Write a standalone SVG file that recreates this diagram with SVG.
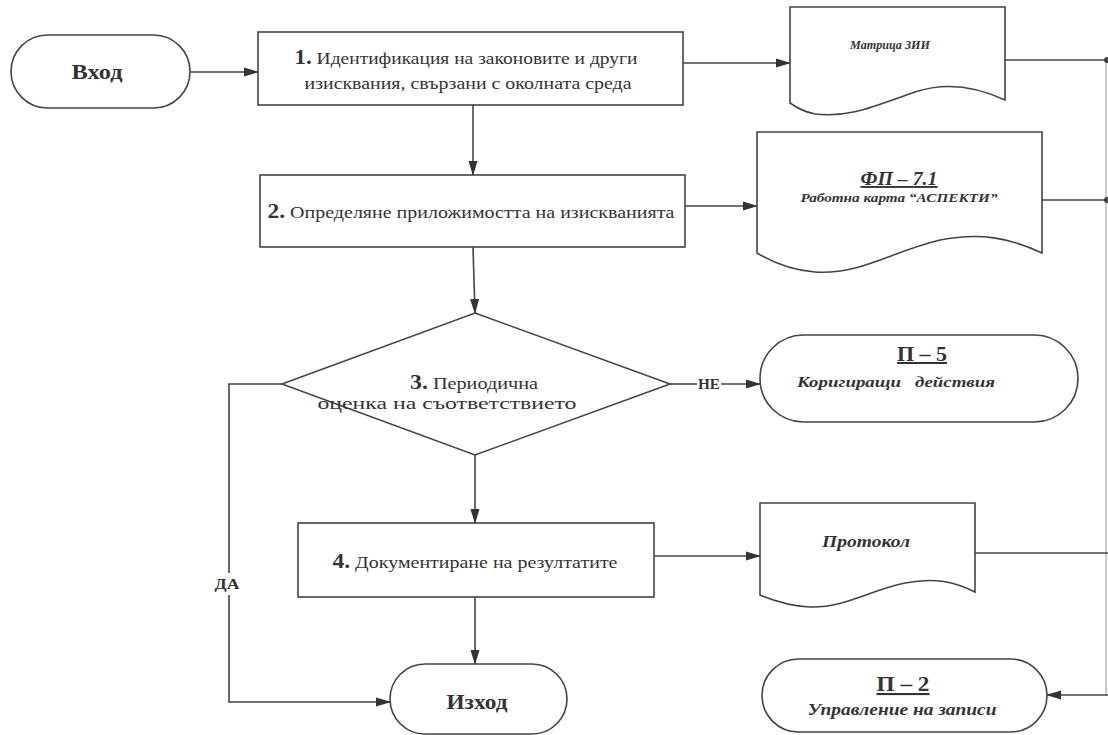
<svg xmlns="http://www.w3.org/2000/svg" width="1108" height="735" viewBox="0 0 1108 735">
<defs>
<marker id="arr" markerWidth="15" markerHeight="10" refX="14" refY="5" orient="auto" markerUnits="userSpaceOnUse">
<path d="M0,0.5 L15,5 L0,9.5 Z" fill="#333"/>
</marker>
<style>
.s{fill:#fff;stroke:#444;stroke-width:1.6}
.c{fill:none;stroke:#444;stroke-width:1.6}
text{fill:#333}
.t{font-size:17px;text-anchor:middle}
.n{font-size:20px;font-weight:bold}
.b{font-weight:bold;text-anchor:middle}
.bi{font-weight:bold;font-style:italic;text-anchor:middle}
.u{text-decoration:underline}
</style>
</defs>
<rect width="1108" height="735" fill="#fff"/>
<g font-family="'Liberation Serif', 'DejaVu Serif', 'Times New Roman', serif">
<g id="connectors">
<line class="c" x1="190" y1="72" x2="258" y2="72" marker-end="url(#arr)"/>
<line class="c" x1="683" y1="63" x2="790" y2="63" marker-end="url(#arr)"/>
<line class="c" x1="473" y1="105" x2="473" y2="175" marker-end="url(#arr)"/>
<line class="c" x1="685" y1="206" x2="757" y2="206" marker-end="url(#arr)"/>
<line class="c" x1="473" y1="247" x2="475" y2="313" marker-end="url(#arr)"/>
<polyline class="c" points="670,384 697,384"/>
<line class="c" x1="721" y1="384" x2="760" y2="384" marker-end="url(#arr)"/>
<line class="c" x1="475" y1="455" x2="475" y2="523" marker-end="url(#arr)"/>
<polyline class="c" points="282,384 229,384 229,573"/>
<polyline class="c" points="229,595 229,702 390,702" marker-end="url(#arr)"/>
<line class="c" x1="475" y1="597" x2="475" y2="664" marker-end="url(#arr)"/>
<line class="c" x1="654" y1="556" x2="760" y2="556" marker-end="url(#arr)"/>
<line class="c" x1="1005" y1="60" x2="1108" y2="60"/>
<line class="c" x1="1042" y1="200" x2="1108" y2="200"/>
<line class="c" x1="975" y1="553" x2="1108" y2="553"/>
<line class="c" x1="1106" y1="60" x2="1106" y2="695" stroke-opacity="0.35"/>
<line class="c" x1="1108" y1="695" x2="1047" y2="695" marker-end="url(#arr)"/>
<circle cx="1107" cy="60" r="3" fill="#444"/>
<circle cx="1107" cy="200" r="3" fill="#444"/>
<text x="709" y="389" class="b" font-size="14" textLength="22" lengthAdjust="spacingAndGlyphs">НЕ</text>
<text x="227" y="589" class="b" font-size="15" textLength="25" lengthAdjust="spacingAndGlyphs">ДА</text>
</g>
<g id="start">
<rect class="s" x="11" y="35" width="179" height="73" rx="36.5"/>
<text x="97" y="79" class="b" font-size="21" textLength="51" lengthAdjust="spacingAndGlyphs">Вход</text>
</g>
<g id="step1">
<rect class="s" x="258" y="32" width="425" height="73"/>
<text x="466" y="64" class="t" textLength="343" lengthAdjust="spacingAndGlyphs"><tspan class="n">1.</tspan> Идентификация на законовите и други</text>
<text x="468" y="89" class="t" textLength="327" lengthAdjust="spacingAndGlyphs">изисквания, свързани с околната среда</text>
</g>
<g id="doc-matrix">
<path class="s" d="M790,7 H1005 V100 C975,86 945,82 915,92 C875,106 850,118 815,114 C805,112 797,108 790,103 Z"/>
<text x="890" y="49" class="bi" font-size="12" textLength="80" lengthAdjust="spacingAndGlyphs">Матрица ЗИИ</text>
</g>
<g id="step2">
<rect class="s" x="260" y="175" width="425" height="72"/>
<text x="471" y="218" class="t" textLength="407" lengthAdjust="spacingAndGlyphs"><tspan class="n">2.</tspan> Определяне приложимостта на изискванията</text>
</g>
<g id="doc-fp">
<path class="s" d="M757,132 H1042 V253 C1010,238 980,232 940,240 C890,252 860,275 815,272 C790,270 772,262 757,253 Z"/>
<text x="899" y="185" class="bi u" font-size="19" textLength="77" lengthAdjust="spacingAndGlyphs">ФП – 7.1</text>
<text x="899" y="202" class="bi" font-size="13" textLength="197" lengthAdjust="spacingAndGlyphs">Работна карта “АСПЕКТИ”</text>
</g>
<g id="step3">
<polygon class="s" points="475,313 670,384 475,455 282,384"/>
<text x="474" y="389" class="t" textLength="128" lengthAdjust="spacingAndGlyphs"><tspan class="n">3.</tspan> Периодична</text>
<text x="447" y="409" class="t" textLength="259" lengthAdjust="spacingAndGlyphs">оценка на съответствието</text>
</g>
<g id="p5">
<rect class="s" x="760" y="335" width="318" height="87" rx="43.5"/>
<text x="922" y="361" class="b u" font-size="20" textLength="50" lengthAdjust="spacingAndGlyphs">П – 5</text>
<text x="896" y="387" class="bi" font-size="15" textLength="198" lengthAdjust="spacingAndGlyphs" xml:space="preserve">Коригиращи   действия</text>
</g>
<g id="step4">
<rect class="s" x="298" y="523" width="356" height="74"/>
<text x="475" y="568" class="t" textLength="285" lengthAdjust="spacingAndGlyphs"><tspan class="n">4.</tspan> Документиране на резултатите</text>
</g>
<g id="doc-protocol">
<path class="s" d="M760,503 H975 V592 C955,582 935,577 905,583 C870,590 845,608 810,607 C790,606 772,600 760,595 Z"/>
<text x="866" y="547" class="bi" font-size="17" textLength="88" lengthAdjust="spacingAndGlyphs">Протокол</text>
</g>
<g id="end">
<rect class="s" x="390" y="664" width="177" height="70" rx="35"/>
<text x="477" y="709" class="b" font-size="22" textLength="61" lengthAdjust="spacingAndGlyphs">Изход</text>
</g>
<g id="p2">
<rect class="s" x="762" y="659" width="285" height="73" rx="36.5"/>
<text x="903" y="691" class="b u" font-size="21" textLength="53" lengthAdjust="spacingAndGlyphs">П – 2</text>
<text x="902" y="715" class="bi" font-size="16" textLength="189" lengthAdjust="spacingAndGlyphs">Управление на записи</text>
</g>
</g>
</svg>
